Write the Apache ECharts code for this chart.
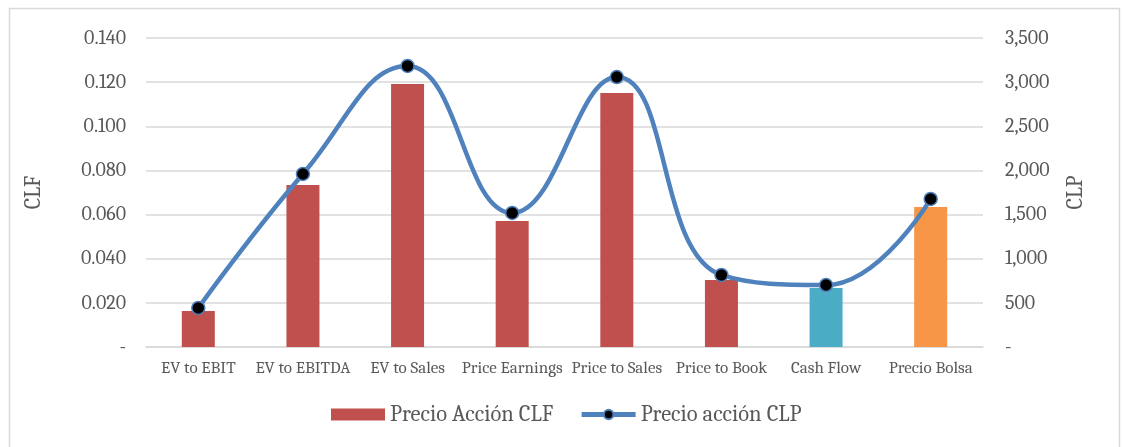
<!DOCTYPE html>
<html><head><meta charset="utf-8">
<script src="https://cdn.jsdelivr.net/npm/echarts@6/dist/echarts.min.js"></script>
<style>html,body{margin:0;padding:0;background:#fff}#c{width:1122px;height:447px}</style>
</head><body><div id="c"></div>
<script>
const categories = ['EV to EBIT','EV to EBITDA','EV to Sales','Price Earnings','Price to Sales','Price to Book','Cash Flow','Precio Bolsa'];
const clfValues = [0.0163, 0.0734, 0.1192, 0.0571, 0.1151, 0.0304, 0.0267, 0.0634];
const clpValues = [442, 1960, 3183, 1518, 3058, 816, 702, 1677];
const barColors = ['#c0504d','#c0504d','#c0504d','#c0504d','#c0504d','#c0504d','#4bacc6','#f79646'];
const seriesNames = ['Precio Acción CLF','Precio acción CLP'];

const font = 'Cambria, serif';
const chart = echarts.init(document.getElementById('c'));
chart.setOption({
  animation: false,
  graphic: [{type:'rect', shape:{x:9.5,y:8.5,width:1110,height:460}, style:{fill:'none', stroke:'#d9d9d9', lineWidth:1.5}, silent:true}],
  grid: {left:146, right:139, top:38, bottom:100},
  legend: {
    top: 398, left: 326, itemGap: 26, itemWidth: 54, itemHeight: 12,
    textStyle: {fontFamily: font, fontSize: 22.5, color: '#595959'},
    data: [
      {name: seriesNames[0], icon: 'rect'},
      {name: seriesNames[1], lineStyle: {width: 5, color: '#4f81bd'}}
    ]
  },
  xAxis: {
    type: 'category', data: categories,
    axisLine: {lineStyle: {color: '#d9d9d9', width: 1.5}},
    axisTick: {show: false},
    axisLabel: {fontFamily: font, fontSize: 17, color: '#595959', margin: 13, interval: 0}
  },
  yAxis: [{
    type: 'value', min: 0, max: 0.14, interval: 0.02,
    name: 'CLF', nameLocation: 'middle', nameGap: 101, nameRotate: 90,
    nameTextStyle: {fontFamily: font, fontSize: 22, color: '#595959'},
    axisLabel: {fontFamily: font, fontSize: 20, color: '#595959', margin: 20,
      formatter: v => v === 0 ? '-' : v.toFixed(3)},
    splitLine: {lineStyle: {color: '#d9d9d9', width: 1.5}},
    axisLine: {show: false}, axisTick: {show: false}
  }, {
    type: 'value', min: 0, max: 3500, interval: 500,
    name: 'CLP', nameLocation: 'middle', nameGap: 82, nameRotate: 90,
    nameTextStyle: {fontFamily: font, fontSize: 22, color: '#595959'},
    axisLabel: {fontFamily: font, fontSize: 20, color: '#595959', margin: 22,
      formatter: v => v === 0 ? '-' : v.toLocaleString('en-US')},
    splitLine: {show: false},
    axisLine: {show: false}, axisTick: {show: false}
  }],
  series: [{
    name: seriesNames[0], type: 'bar', yAxisIndex: 0, barWidth: 33,
    itemStyle: {color: '#c0504d'},
    data: clfValues.map((v, i) => ({value: v, itemStyle: {color: barColors[i]}}))
  }, {
    name: seriesNames[1], type: 'line', yAxisIndex: 1, smooth: 0.45,
    lineStyle: {color: '#4f81bd', width: 4.5},
    symbol: 'circle', symbolSize: 13,
    itemStyle: {color: '#000', borderColor: '#4f81bd', borderWidth: 1.5},
    data: clpValues
  }]
});
</script></body></html>
